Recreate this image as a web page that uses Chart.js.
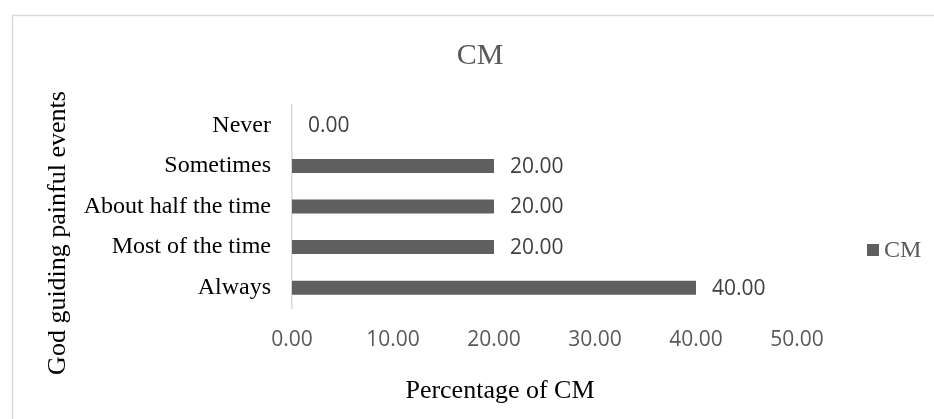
<!DOCTYPE html>
<html>
<head>
<meta charset="utf-8">
<script src="https://cdn.jsdelivr.net/npm/chart.js@4"></script>
<style>
  html, body { margin: 0; padding: 0; background: #ffffff; }
  #wrap { position: relative; width: 934px; height: 419px; }
</style>
</head>
<body>
<div id="wrap"><canvas id="chart" width="934" height="419"></canvas></div>
<script>
// Responses to "God guiding painful events" (percentage of CM)
const categories = ['Never', 'Sometimes', 'About half the time', 'Most of the time', 'Always'];
const cmValues = [0, 20, 20, 20, 40];
const seriesName = 'CM';
const xTickValues = [0, 10, 20, 30, 40, 50];

const chartTitle = 'CM';
const xAxisTitle = 'Percentage of CM';
const yAxisTitle = 'God guiding painful events';

const BAR_COLOR = '#5f5f5f';
const SERIF = '"Liberation Serif", "Times New Roman", serif';
const SANS = '"Open Sans", "Noto Sans", sans-serif';

// Frame, title, axis titles, legend and value labels
const decorations = {
  id: 'decorations',
  beforeDraw(chart) {
    const ctx = chart.ctx;
    ctx.save();
    ctx.fillStyle = '#ffffff';
    ctx.fillRect(0, 0, chart.width, chart.height);
    ctx.strokeStyle = '#d9d9d9';
    ctx.lineWidth = 1.5;
    ctx.beginPath();
    ctx.moveTo(chart.width + 5, 15.5);
    ctx.lineTo(12.5, 15.5);
    ctx.lineTo(12.5, chart.height + 5);
    ctx.stroke();
    ctx.restore();
  },
  afterDatasetsDraw(chart) {
    const ctx = chart.ctx;
    const meta = chart.getDatasetMeta(0);
    const data = chart.data.datasets[0].data;
    ctx.save();
    ctx.font = '21px ' + SANS;
    ctx.fillStyle = '#404040';
    ctx.textAlign = 'left';
    ctx.textBaseline = 'middle';
    meta.data.forEach((bar, i) => {
      ctx.fillText(Number(data[i]).toFixed(2), bar.x + 16, bar.y + 1);
    });
    ctx.restore();
  },
  afterDraw(chart) {
    const ctx = chart.ctx;
    ctx.save();
    // chart title
    ctx.font = '30px ' + SERIF;
    ctx.fillStyle = '#595959';
    ctx.textAlign = 'center';
    ctx.textBaseline = 'middle';
    ctx.fillText(chartTitle, 480, 56);

    // x axis title
    ctx.font = '26px ' + SERIF;
    ctx.fillStyle = '#000000';
    ctx.fillText(xAxisTitle, 500, 391);

    // y axis title
    ctx.save();
    ctx.translate(58, 233);
    ctx.rotate(-Math.PI / 2);
    ctx.fillText(yAxisTitle, 0, 0);
    ctx.restore();

    // legend
    ctx.fillStyle = BAR_COLOR;
    ctx.fillRect(867, 244, 12, 12);
    ctx.font = '24px ' + SERIF;
    ctx.fillStyle = '#595959';
    ctx.textAlign = 'left';
    ctx.fillText(chart.data.datasets[0].label, 884, 251);
    ctx.restore();
  }
};

new Chart(document.getElementById('chart'), {
  type: 'bar',
  data: {
    labels: categories,
    datasets: [{
      label: seriesName,
      data: cmValues,
      backgroundColor: BAR_COLOR,
      borderWidth: 0,
      categoryPercentage: 1,
      barPercentage: 0.345
    }]
  },
  options: {
    indexAxis: 'y',
    responsive: false,
    animation: false,
    devicePixelRatio: 1,
    layout: { padding: { top: 105, right: 137, bottom: 0, left: 0 } },
    plugins: {
      legend: { display: false },
      title: { display: false },
      tooltip: { enabled: false }
    },
    scales: {
      x: {
        type: 'linear',
        min: xTickValues[0],
        max: xTickValues[xTickValues.length - 1],
        afterBuildTicks(scale) {
          scale.ticks = xTickValues.map(v => ({ value: v }));
        },
        afterFit(scale) { scale.height = 111; },
        grid: { display: false, drawTicks: false },
        border: { display: false },
        ticks: {
          padding: 19,
          color: '#595959',
          font: { family: SANS, size: 21 },
          callback: v => Number(v).toFixed(2)
        }
      },
      y: {
        type: 'category',
        afterFit(scale) { scale.width = 292; },
        grid: { display: false, drawTicks: false },
        border: { display: true, color: '#d9d9d9', width: 1.5 },
        ticks: {
          padding: 21,
          color: '#000000',
          font: { family: SERIF, size: 24 }
        }
      }
    }
  },
  plugins: [decorations]
});
</script>
</body>
</html>
